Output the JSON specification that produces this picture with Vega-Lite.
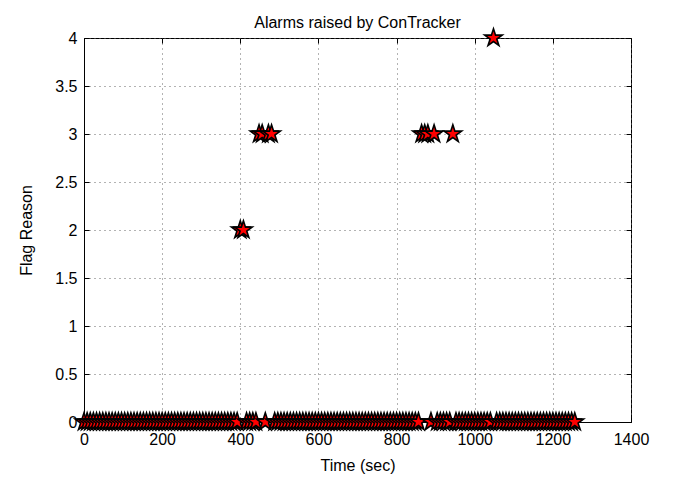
{
  "$schema": "https://vega.github.io/schema/vega-lite/v6.json",
  "autosize": {"type": "none"},
  "width": 547,
  "height": 384,
  "padding": {"left": 84, "top": 38, "right": 52, "bottom": 57},
  "background": "white",
  "title": {"text": "Alarms raised by ConTracker", "font": "Liberation Sans", "fontSize": 16, "fontWeight": "normal", "color": "black", "offset": 1, "dy": 6},
  "config": {
    "view": {"stroke": "black", "strokeWidth": 1},
    "axis": {"labelFont": "Liberation Sans", "labelFontSize": 16, "labelColor": "black", "titleFont": "Liberation Sans", "titleFontSize": 16, "titleFontWeight": "normal", "titleColor": "black", "domainColor": "black", "tickColor": "black", "tickSize": -5, "gridColor": "#666", "gridDash": [1, 4], "gridOpacity": 1, "gridWidth": 1, "labelFlush": false}
  },
  "data": {"values": [
    {"t":0,"f":0},{"t":8,"f":0},{"t":16,"f":0},{"t":24,"f":0},{"t":32,"f":0},{"t":40,"f":0},{"t":48,"f":0},{"t":56,"f":0},{"t":64,"f":0},{"t":72,"f":0},
    {"t":80,"f":0},{"t":88,"f":0},{"t":96,"f":0},{"t":104,"f":0},{"t":112,"f":0},{"t":120,"f":0},{"t":128,"f":0},{"t":136,"f":0},{"t":144,"f":0},{"t":152,"f":0},
    {"t":160,"f":0},{"t":168,"f":0},{"t":176,"f":0},{"t":184,"f":0},{"t":192,"f":0},{"t":200,"f":0},{"t":208,"f":0},{"t":216,"f":0},{"t":224,"f":0},{"t":232,"f":0},
    {"t":240,"f":0},{"t":248,"f":0},{"t":256,"f":0},{"t":264,"f":0},{"t":272,"f":0},{"t":280,"f":0},{"t":288,"f":0},{"t":296,"f":0},{"t":304,"f":0},{"t":312,"f":0},
    {"t":320,"f":0},{"t":328,"f":0},{"t":336,"f":0},{"t":344,"f":0},{"t":352,"f":0},{"t":360,"f":0},{"t":368,"f":0},{"t":376,"f":0},{"t":384,"f":0},{"t":392,"f":0},
    {"t":400,"f":2},{"t":408,"f":2},{"t":416,"f":0},{"t":424,"f":0},{"t":432,"f":0},{"t":440,"f":0},{"t":448,"f":3},{"t":456,"f":3},{"t":464,"f":0},{"t":472,"f":3},
    {"t":480,"f":3},{"t":488,"f":0},{"t":496,"f":0},{"t":504,"f":0},{"t":512,"f":0},{"t":520,"f":0},{"t":528,"f":0},{"t":536,"f":0},{"t":544,"f":0},{"t":552,"f":0},
    {"t":560,"f":0},{"t":568,"f":0},{"t":576,"f":0},{"t":584,"f":0},{"t":592,"f":0},{"t":600,"f":0},{"t":608,"f":0},{"t":616,"f":0},{"t":624,"f":0},{"t":632,"f":0},
    {"t":640,"f":0},{"t":648,"f":0},{"t":656,"f":0},{"t":664,"f":0},{"t":672,"f":0},{"t":680,"f":0},{"t":688,"f":0},{"t":696,"f":0},{"t":704,"f":0},{"t":712,"f":0},
    {"t":720,"f":0},{"t":728,"f":0},{"t":736,"f":0},{"t":744,"f":0},{"t":752,"f":0},{"t":760,"f":0},{"t":768,"f":0},{"t":776,"f":0},{"t":784,"f":0},{"t":792,"f":0},
    {"t":800,"f":0},{"t":808,"f":0},{"t":816,"f":0},{"t":824,"f":0},{"t":832,"f":0},{"t":840,"f":0},{"t":848,"f":0},{"t":856,"f":0},{"t":864,"f":3},{"t":872,"f":3},
    {"t":880,"f":3},{"t":888,"f":0},{"t":896,"f":3},{"t":904,"f":0},{"t":912,"f":0},{"t":920,"f":0},{"t":928,"f":0},{"t":936,"f":0},{"t":944,"f":3},{"t":952,"f":0},
    {"t":960,"f":0},{"t":968,"f":0},{"t":976,"f":0},{"t":984,"f":0},{"t":992,"f":0},{"t":1000,"f":0},{"t":1008,"f":0},{"t":1016,"f":0},{"t":1024,"f":0},{"t":1032,"f":0},
    {"t":1040,"f":0},{"t":1048,"f":4},{"t":1056,"f":0},{"t":1064,"f":0},{"t":1072,"f":0},{"t":1080,"f":0},{"t":1088,"f":0},{"t":1096,"f":0},{"t":1104,"f":0},{"t":1112,"f":0},
    {"t":1120,"f":0},{"t":1128,"f":0},{"t":1136,"f":0},{"t":1144,"f":0},{"t":1152,"f":0},{"t":1160,"f":0},{"t":1168,"f":0},{"t":1176,"f":0},{"t":1184,"f":0},{"t":1192,"f":0},
    {"t":1200,"f":0},{"t":1208,"f":0},{"t":1216,"f":0},{"t":1224,"f":0},{"t":1232,"f":0},{"t":1240,"f":0},{"t":1248,"f":0},{"t":1256,"f":0}
  ]},
  "layer": [
    {
      "mark": {"type": "point", "shape": "M0,-1L0.2245,-0.309L0.951,-0.309L0.363,0.118L0.588,0.809L0,0.382L-0.588,0.809L-0.363,0.118L-0.951,-0.309L-0.2245,-0.309Z", "filled": true, "fill": "red", "stroke": "black", "strokeWidth": 1.6, "size": 340, "opacity": 1},
      "encoding": {
        "x": {"field": "t", "type": "quantitative", "scale": {"domain": [0, 1400], "nice": false}, "axis": {"orient": "bottom", "title": "Time (sec)", "values": [0,200,400,600,800,1000,1200,1400], "format": "d", "labelPadding": 14, "titlePadding": 10}},
        "y": {"field": "f", "type": "quantitative", "scale": {"domain": [0, 4], "nice": false}, "axis": {"orient": "left", "title": "Flag Reason", "values": [0,0.5,1,1.5,2,2.5,3,3.5,4], "format": "~g", "labelPadding": 12, "titlePadding": 20}}
      }
    },
    {
      "mark": {"type": "point", "opacity": 0},
      "encoding": {
        "x": {"field": "t", "type": "quantitative", "axis": {"orient": "top", "labels": false, "grid": false, "title": null, "domain": false, "values": [0,200,400,600,800,1000,1200,1400]}},
        "y": {"field": "f", "type": "quantitative", "axis": {"orient": "right", "labels": false, "grid": false, "title": null, "domain": false, "values": [0,0.5,1,1.5,2,2.5,3,3.5,4]}}
      }
    }
  ],
  "resolve": {"axis": {"x": "independent", "y": "independent"}}
}
